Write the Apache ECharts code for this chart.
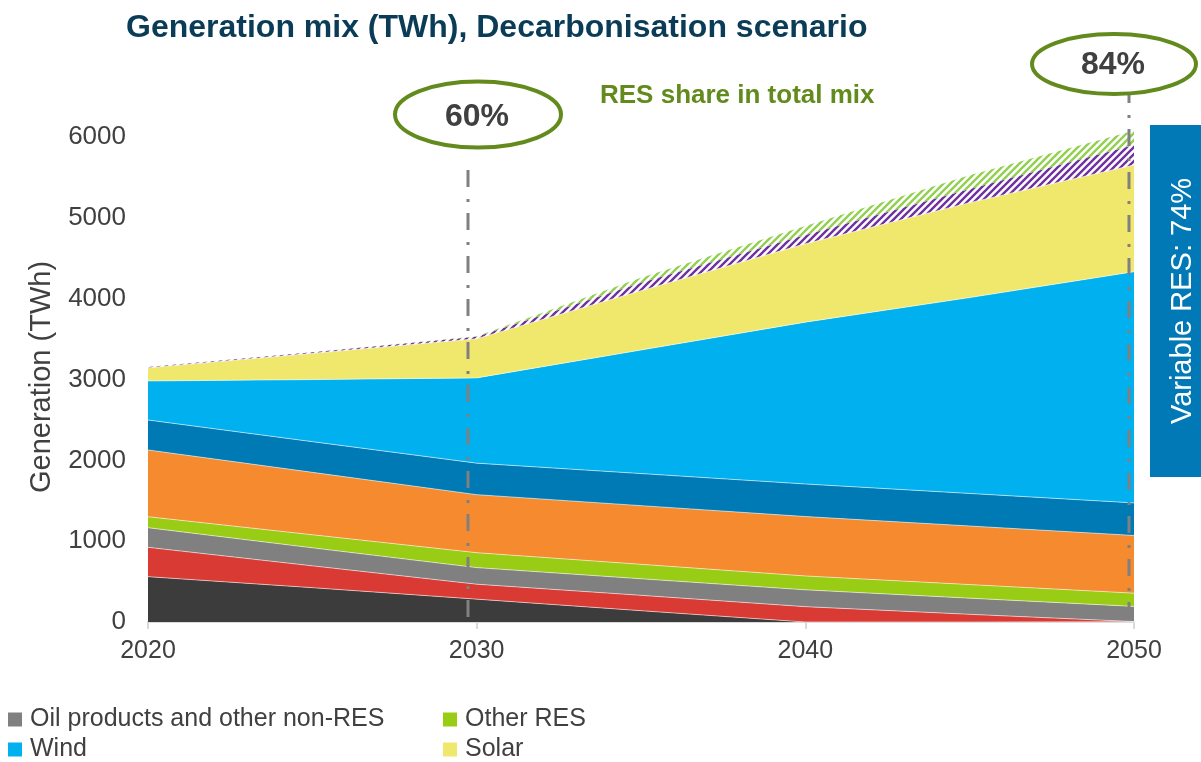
<!DOCTYPE html>
<html>
<head>
<meta charset="utf-8">
<script src="https://cdn.jsdelivr.net/npm/echarts@6/dist/echarts.min.js"></script>
<style>html,body{margin:0;padding:0;background:#fff}#c{width:1201px;height:762px}</style>
</head>
<body>
<div id="c"></div>
<script>
const years = ['2020','2025','2030','2035','2040','2045','2050'];
const coal      = [561, 425, 283, 140, 0, 0, 0];
const lignite   = [363, 270, 185, 190, 190, 95, 5];
const oilOther  = [243, 223, 205, 205, 208, 200, 188];
const otherRes  = [136, 162, 185, 179, 172, 168, 164];
const gas       = [826, 772, 718, 726, 735, 725, 714];
const hydro     = [371, 380, 390, 397, 403, 403, 403];
const wind      = [483, 768, 1055, 1529, 2003, 2424, 2861];
const solar     = [164, 325, 485, 734, 969, 1175, 1321];
const hatchA    = [8, 15, 24, 100, 110, 170, 247];
const hatchB    = [0, 0, 5, 60, 110, 170, 177];
const yTicks = [0, 1000, 2000, 3000, 4000, 5000, 6000];

const FONT = "'Liberation Sans', Arial, sans-serif";
function hatch(color){
  const s = 7;
  const c = document.createElement('canvas'); c.width = s; c.height = s;
  const g = c.getContext('2d');
  g.fillStyle = '#ffffff'; g.fillRect(0,0,s,s);
  g.strokeStyle = color; g.lineWidth = 2.4; g.beginPath();
  g.moveTo(0,s); g.lineTo(s,0);
  g.moveTo(-s/2,s/2); g.lineTo(s/2,-s/2);
  g.moveTo(s/2,s*1.5); g.lineTo(s*1.5,s/2);
  g.stroke();
  return c;
}
const sep = {width: 1, color: 'rgba(255,255,255,0.55)'};
function area(name, data, color, opts){
  return Object.assign({
    name, type: 'line', stack: 'total', data, symbol: 'none', showSymbol: false,
    lineStyle: sep, areaStyle: {color: color, opacity: 1}, itemStyle: {color: color},
    emphasis: {disabled: true}, z: 2
  }, opts || {});
}
function leg(name, left, top){
  return {data: [name], left, top, itemWidth: 14, itemHeight: 14, icon: 'rect', itemGap: 0,
    padding: 0, selectedMode: false,
    textStyle: {fontSize: 25, color: '#404040', fontFamily: FONT, padding: [0,0,0,3]}};
}
const chart = echarts.init(document.getElementById('c'), null, {renderer: 'canvas'});
chart.setOption({
  animation: false,
  backgroundColor: '#ffffff',
  textStyle: {fontFamily: FONT},
  title: {
    text: 'Generation mix (TWh), Decarbonisation scenario',
    left: 121, top: 7,
    textStyle: {fontFamily: FONT, fontSize: 32, fontWeight: 'bold', color: '#0b3c57'}
  },
  grid: {left: 148, right: 67, top: 56.4, bottom: 140, containLabel: false},
  xAxis: {
    type: 'category', data: years, boundaryGap: false,
    axisLine: {lineStyle: {color: '#d9d9d9', width: 2}},
    axisTick: {show: true, interval: 1, length: 7, lineStyle: {color: '#d9d9d9', width: 2}},
    axisLabel: {interval: 1, margin: 17, fontSize: 25, color: '#404040', fontFamily: FONT},
    splitLine: {show: false}
  },
  yAxis: {
    type: 'value', min: 0, max: 7000, interval: 1000,
    axisLine: {show: false}, axisTick: {show: false}, splitLine: {show: false},
    axisLabel: {margin: 22, fontSize: 26, color: '#404040', fontFamily: FONT,
      formatter: v => yTicks.indexOf(v) >= 0 ? String(v) : ''}
  },
  legend: [
    leg('Oil products and other non-RES', 8, 707),
    leg('Wind', 8, 737),
    leg('Other RES', 443, 707),
    leg('Solar', 443, 737)
  ],
  series: [
    area('Coal', coal, '#3c3c3c'),
    area('Lignite', lignite, '#d93a33'),
    area('Oil products and other non-RES', oilOther, '#808080'),
    area('Other RES', otherRes, '#99cc14'),
    area('Gas', gas, '#f58a2f'),
    area('Hydro', hydro, '#007ab5'),
    area('Wind', wind, '#00b0ef'),
    area('Solar', solar, '#efe86c'),
    area('Storage', hatchA, {image: hatch('#7030a0'), repeat: 'repeat'}, {lineStyle: {width: 0}, itemStyle: {color: '#7030a0'}}),
    area('Hydrogen', hatchB, {image: hatch('#92d050'), repeat: 'repeat'}, {lineStyle: {width: 0}, itemStyle: {color: '#92d050'}})
  ],
  graphic: [
    {type: 'text', z: 30, x: 42, y: 377, rotation: Math.PI / 2,
     style: {text: 'Generation (TWh)', fontFamily: FONT, fontSize: 29, fill: '#404040', align: 'center', verticalAlign: 'middle'}},
    {type: 'line', z: 50, shape: {x1: 468, y1: 170, x2: 468, y2: 622},
     style: {stroke: '#808080', lineWidth: 3, lineDash: [17, 12, 3, 11]}},
    {type: 'line', z: 50, shape: {x1: 1129, y1: 86, x2: 1129, y2: 622},
     style: {stroke: '#808080', lineWidth: 3, lineDash: [17, 12, 3, 11]}},
    {type: 'ellipse', z: 60, shape: {cx: 478, cy: 114.5, rx: 83, ry: 33},
     style: {fill: '#ffffff', stroke: '#628a1c', lineWidth: 4}},
    {type: 'text', z: 61, x: 477, y: 117,
     style: {text: '60%', fontFamily: FONT, fontSize: 32, fontWeight: 'bold', fill: '#404040', align: 'center', verticalAlign: 'middle'}},
    {type: 'ellipse', z: 60, shape: {cx: 1114, cy: 64, rx: 82, ry: 30},
     style: {fill: '#ffffff', stroke: '#628a1c', lineWidth: 4}},
    {type: 'text', z: 61, x: 1113, y: 65,
     style: {text: '84%', fontFamily: FONT, fontSize: 32, fontWeight: 'bold', fill: '#404040', align: 'center', verticalAlign: 'middle'}},
    {type: 'text', z: 61, x: 600, y: 96,
     style: {text: 'RES share in total mix', fontFamily: FONT, fontSize: 26, fontWeight: 'bold', fill: '#628a1c', align: 'left', verticalAlign: 'middle'}},
    {type: 'rect', z: 40, shape: {x: 1150, y: 125, width: 60, height: 352},
     style: {fill: '#0079b6'}},
    {type: 'text', z: 41, x: 1183, y: 301, rotation: Math.PI / 2,
     style: {text: 'Variable RES: 74%', fontFamily: FONT, fontSize: 29, fill: '#ffffff', align: 'center', verticalAlign: 'middle'}}
  ]
});
</script>
</body>
</html>
